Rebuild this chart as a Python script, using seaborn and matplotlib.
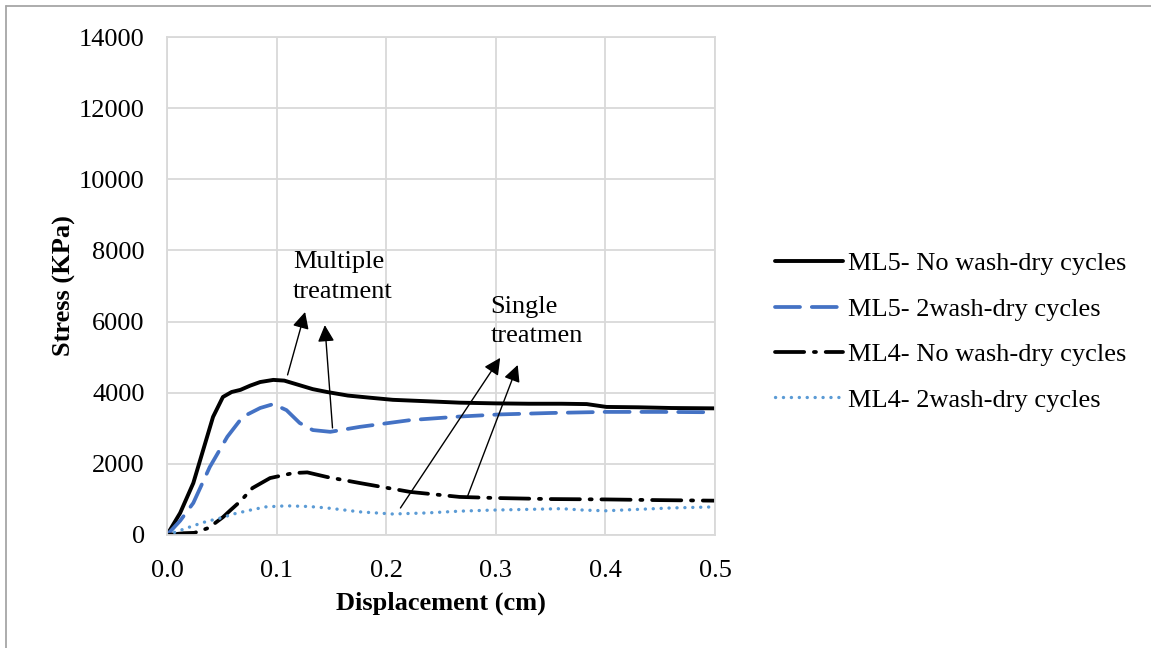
import matplotlib
matplotlib.use("Agg")
import matplotlib.pyplot as plt
import seaborn as sns
import pandas as pd
from matplotlib.lines import Line2D

# Displacement (cm) / stress (kPa) readings for each specimen
ml5_dry_x = [0, 0.012, 0.024, 0.033, 0.042, 0.051, 0.059, 0.067, 0.076, 0.085, 0.097, 0.107,
             0.12, 0.133, 0.146, 0.165, 0.185, 0.206, 0.237, 0.267, 0.3, 0.33, 0.36, 0.383,
             0.401, 0.43, 0.46, 0.5]
ml5_dry_y = [0, 620, 1460, 2390, 3320, 3880, 4020, 4080, 4200, 4300, 4360, 4340,
             4220, 4100, 4020, 3920, 3860, 3800, 3760, 3720, 3700, 3690, 3690, 3680,
             3600, 3590, 3570, 3560]

ml5_wash_x = [0, 0.012, 0.024, 0.039, 0.055, 0.069, 0.085, 0.097, 0.109, 0.121, 0.133,
              0.149, 0.176, 0.222, 0.267, 0.304, 0.35, 0.4, 0.45, 0.5]
ml5_wash_y = [0, 400, 900, 1910, 2760, 3320, 3570, 3680, 3510, 3150, 2950,
              2900, 3040, 3230, 3330, 3390, 3430, 3460, 3460, 3450]

ml4_dry_x = [0, 0.015, 0.025, 0.038, 0.051, 0.058, 0.067, 0.078, 0.094, 0.115, 0.128,
             0.146, 0.176, 0.222, 0.267, 0.3, 0.35, 0.4, 0.45, 0.5]
ml4_dry_y = [0, 50, 60, 200, 500, 700, 950, 1320, 1600, 1740, 1760,
             1630, 1460, 1210, 1070, 1040, 1010, 1000, 980, 965]

ml4_wash_x = [0, 0.012, 0.024, 0.036, 0.048, 0.062, 0.076, 0.09, 0.109, 0.13, 0.146,
              0.176, 0.206, 0.237, 0.267, 0.297, 0.33, 0.36, 0.38, 0.4, 0.43, 0.46, 0.5]
ml4_wash_y = [0, 130, 260, 380, 470, 600, 700, 790, 820, 800, 760,
              650, 590, 620, 670, 700, 720, 740, 700, 680, 720, 760, 790]

series_labels = ["ML5- No wash-dry cycles", "ML5- 2wash-dry cycles",
                 "ML4- No wash-dry cycles", "ML4- 2wash-dry cycles"]

x_ticks = [0.0, 0.1, 0.2, 0.3, 0.4, 0.5]
y_ticks = [0, 2000, 4000, 6000, 8000, 10000, 12000, 14000]

sns.set_theme(style="white")
plt.rcParams["font.family"] = ["Liberation Serif", "DejaVu Serif"]
plt.rcParams["lines.scale_dashes"] = False
plt.rcParams["text.color"] = "black"
plt.rcParams["axes.labelcolor"] = "black"

frames = []
for lab, xs, ys in zip(series_labels,
                       [ml5_dry_x, ml5_wash_x, ml4_dry_x, ml4_wash_x],
                       [ml5_dry_y, ml5_wash_y, ml4_dry_y, ml4_wash_y]):
    frames.append(pd.DataFrame({"Displacement": xs, "Stress": ys, "Series": lab}))
df = pd.concat(frames, ignore_index=True)

palette = {series_labels[0]: "#000000", series_labels[1]: "#4472C4",
           series_labels[2]: "#000000", series_labels[3]: "#5B9BD5"}
dash_map = {series_labels[0]: "", series_labels[1]: (18, 8.5),
            series_labels[2]: (21, 7, 1.5, 7), series_labels[3]: (0.1, 5.6)}
widths = [2.8, 2.7, 2.7, 2.4]

fig = plt.figure(figsize=(11.51, 6.48), dpi=100)
ax = fig.add_axes([0.1451, 0.1744, 0.4761, 0.7685])

sns.lineplot(data=df, x="Displacement", y="Stress", hue="Series", style="Series",
             palette=palette, dashes=dash_map, hue_order=series_labels,
             style_order=series_labels, linewidth=2.5, ax=ax, sort=True,
             estimator=None, legend=False)

for ln, w in zip(ax.get_lines(), widths):
    ln.set_dash_capstyle("round")
    ln.set_solid_capstyle("round")
    ln.set_solid_joinstyle("round")
    ln.set_linewidth(w)

ax.set_xlim(0, 0.5)
ax.set_ylim(0, 14000)
ax.set_xticks(x_ticks)
ax.set_xticklabels([f"{v:.1f}" for v in x_ticks])
ax.set_yticks(y_ticks)
ax.set_yticklabels([str(v) for v in y_ticks])
ax.grid(True, color="#d9d9d9", linewidth=1.3)
ax.set_axisbelow(True)
for sp in ax.spines.values():
    sp.set_color("#d9d9d9")
    sp.set_linewidth(1.3)
ax.tick_params(axis="both", length=0, labelsize=19, colors="black")
ax.tick_params(axis="y", pad=16)
ax.tick_params(axis="x", pad=18)
ax.set_xlabel("Displacement (cm)", fontsize=19, fontweight="bold", labelpad=7)
ax.set_ylabel("Stress (KPa)", fontsize=19, fontweight="bold", labelpad=2)

# Annotations
ax.text(0.115, 7250, "Multiple\ntreatment", fontsize=19, va="center", ha="left",
        linespacing=1.45)
ax.text(0.295, 6000, "Single\ntreatmen", fontsize=19, va="center", ha="left",
        linespacing=1.45)
arrow = dict(arrowstyle="-|>", color="black", lw=1.0, mutation_scale=25,
             shrinkA=0, shrinkB=0)
for head, tail in [((0.126, 6270), (0.110, 4500)),
                   ((0.144, 5900), (0.151, 3010)),
                   ((0.304, 4980), (0.213, 760)),
                   ((0.320, 4780), (0.274, 1070))]:
    ax.annotate("", xy=head, xytext=tail, arrowprops=arrow)

# Legend
handles = []
for i, lab in enumerate(series_labels):
    src = ax.get_lines()[i]
    h = Line2D([], [], color=src.get_color(), linewidth=src.get_linewidth(),
               linestyle=src.get_linestyle(), dash_capstyle="round")
    if dash_map[lab]:
        h.set_dashes(dash_map[lab])
    handles.append(h)
fig.legend(handles, series_labels, loc="center left",
           bbox_to_anchor=(0.653, 0.488), frameon=False, fontsize=19,
           handlelength=2.55, handletextpad=0.22, labelspacing=0.83)

# Outer frame edges
fig.add_artist(Line2D([0.0055, 0.0055], [0, 0.991], transform=fig.transFigure,
                      color="#a6a6a6", linewidth=1.3))
fig.add_artist(Line2D([0.0055, 1.0], [0.991, 0.991], transform=fig.transFigure,
                      color="#a6a6a6", linewidth=1.3))

fig.savefig("out.png", dpi=100, facecolor="white")
